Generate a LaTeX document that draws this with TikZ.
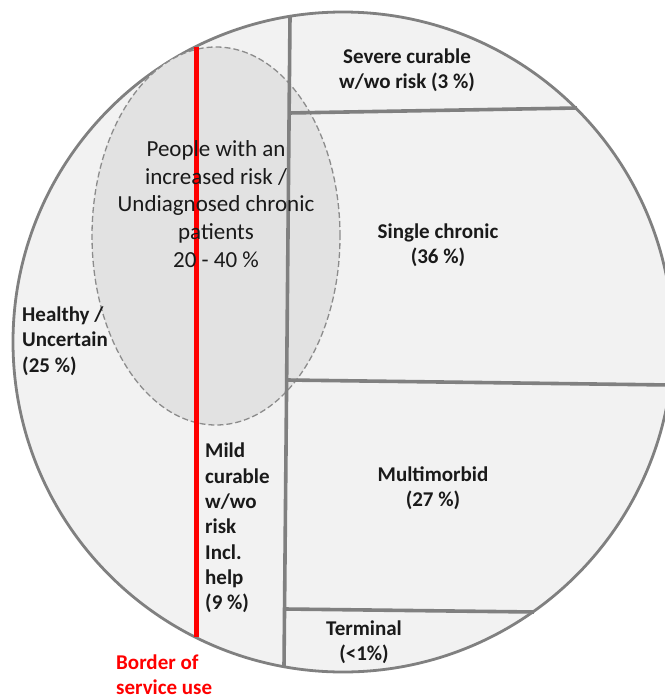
\documentclass[tikz,border=0pt]{standalone}
\usepackage{fontspec}
\setmainfont{Carlito}
\usetikzlibrary{shapes.geometric}
\definecolor{linegray}{HTML}{808080}
\definecolor{fillgray}{HTML}{F2F2F2}
\definecolor{ellgray}{HTML}{E2E2E2}
\definecolor{dashgray}{HTML}{8C8C8C}
\definecolor{txt}{HTML}{1A1A1A}
\begin{document}
\begin{tikzpicture}[x=1pt,y=-1pt,
  divider/.style={draw=linegray, line width=3.6pt},
  boldlab/.style={font=\fontsize{21}{25.3}\selectfont\bfseries, text=txt, inner sep=0pt},
  reglab/.style={font=\fontsize{23}{27.8}\selectfont, text=txt, inner sep=0pt, align=center},
  border/.style={draw=red, line width=5pt}
]
\useasboundingbox (0,0) rectangle (664,695);
% population circle
\node[circle, draw=linegray, line width=2.8pt, fill=fillgray, minimum size=660pt, inner sep=0pt] (pop) at (343,342) {};
% risk ellipse
\node[ellipse, draw=dashgray, line width=1.3pt, dash pattern=on 6pt off 3pt, fill=ellgray, minimum width=248pt, minimum height=378pt, inner sep=0pt] (risk) at (216,236) {};
% dividers
\coordinate (vtop) at (290,16.3);
\coordinate (vbot) at (284,666.7);
\coordinate (h1a) at (289,113);
\coordinate (h1b) at (577,108);
\coordinate (h2a) at (287,380);
\coordinate (h2b) at (670,385);
\coordinate (h3a) at (285,609);
\coordinate (h3b) at (534,612);
\draw[divider] (vtop) -- (vbot);
\draw[divider] (h1a) -- (h1b);
\draw[divider] (h2a) -- (h2b);
\draw[divider] (h3a) -- (h3b);
% border of service use
\coordinate (rtop) at (196,46.6);
\coordinate (rbot) at (196,637.4);
\draw[border] (rtop) -- (rbot);
% labels
\node[reglab] (risktxt) at (216,204) {People with an\\increased risk /\\Undiagnosed chronic\\patients\\20 - 40 \%};
\node[boldlab, align=center] (severe) at (407,70) {Severe curable\\w/wo risk (3 \%)};
\node[boldlab, align=center] (single) at (438,245) {Single chronic\\(36 \%)};
\node[boldlab, align=left, anchor=west] (healthy) at (22,341) {Healthy /\\Uncertain\\(25 \%)};
\node[boldlab, align=left, anchor=west] (mild) at (205,528) {Mild\\curable\\w/wo\\risk\\Incl.\\help\\(9 \%)};
\node[boldlab, align=center] (multi) at (433,488) {Multimorbid\\(27 \%)};
\node[boldlab, align=center] (term) at (364,642) {Terminal\\(<1\%)};
\node[boldlab, align=left, anchor=west, text=red] (bordertxt) at (116,675) {Border of\\service use};
\end{tikzpicture}
\end{document}
